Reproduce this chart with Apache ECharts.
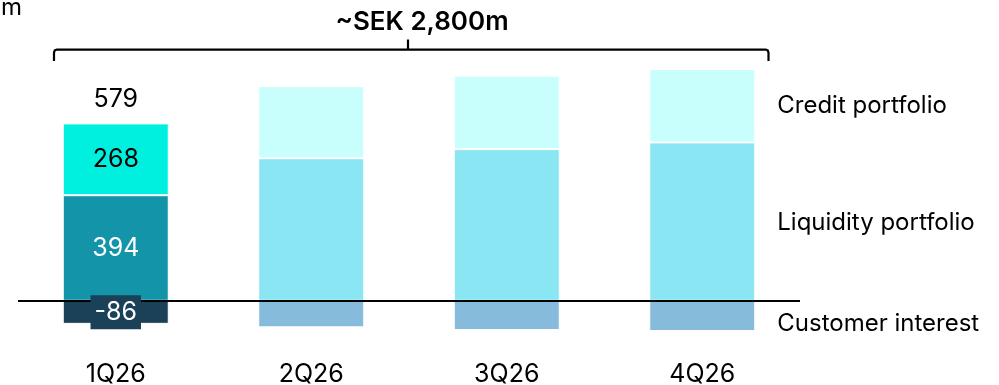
<!DOCTYPE html>
<html>
<head>
<meta charset="utf-8">
<script src="https://cdn.jsdelivr.net/npm/echarts@6/dist/echarts.min.js"></script>
<style>
  html, body { margin: 0; padding: 0; background: #fff; }
  #chart { width: 999px; height: 385px; }
</style>
</head>
<body>
<div id="chart"></div>
<script>
// Net interest income outlook by quarter, SEK m
const quarters = ['1Q26', '2Q26', '3Q26', '4Q26'];
const liquidity = [394, 532, 566, 591];
const credit = [268, 269, 274, 274];
const customer = [-86, -99, -109, -113];
const reportedTotal = [579];
const seriesNames = ['Credit portfolio', 'Liquidity portfolio', 'Customer interest'];
const outlookTotal = '~SEK 2,800m';
const unitLabel = 'm';

const FONT = 'Inter';
// first quarter is reported (strong colours), the rest are outlook (pale colours)
const palette = {
  credit:    ['#00F0E0', '#C8FFFC'],
  liquidity: ['#1494A8', '#8AE6F2'],
  customer:  ['#1B4159', '#87BBDB']
};
const last = quarters.length - 1;

function items(values, colors, opts) {
  return values.map((v, i) => {
    const item = { value: v, itemStyle: { color: i === 0 ? colors[0] : colors[1] } };
    if (i === 0 && opts.firstLabel) item.label = opts.firstLabel;
    if (i === last && opts.lastLabel) item.label = opts.lastLabel;
    return item;
  });
}

const sideLabel = (name, dy) => ({
  show: true, position: 'right', distance: 22, offset: [0, dy],
  formatter: name, color: '#000', fontSize: 24, fontFamily: FONT
});

const barBase = {
  type: 'bar', stack: 'nii', barWidth: 106,
  itemStyle: { borderColor: '#fff', borderWidth: 1 },
  label: { show: false }
};

const chart = echarts.init(document.getElementById('chart'), null, { renderer: 'canvas' });
chart.setOption({
  animation: false,
  backgroundColor: '#fff',
  grid: { left: 18, width: 782, top: 59.6, height: 294.8, outerBoundsMode: 'none', containLabel: false },
  xAxis: {
    type: 'category', data: quarters,
    axisLine: { show: false }, axisTick: { show: false },
    axisLabel: { color: '#000', fontSize: 25, fontFamily: FONT, margin: 8 }
  },
  yAxis: { type: 'value', min: -200, max: 900, show: false, splitLine: { show: false } },
  series: [
    Object.assign({}, barBase, {
      name: seriesNames[1],
      data: items(liquidity, palette.liquidity, {
        firstLabel: { show: true, position: 'inside', color: '#fff', fontSize: 25, fontFamily: FONT },
        lastLabel: sideLabel(seriesNames[1], 1)
      }),
      markLine: {
        silent: true, symbol: ['none', 'none'],
        label: { show: false },
        lineStyle: { color: '#000', width: 1.8, type: 'solid', opacity: 1 },
        data: [{ yAxis: 0 }]
      }
    }),
    Object.assign({}, barBase, {
      name: seriesNames[0],
      data: items(credit, palette.credit, {
        firstLabel: { show: true, position: 'inside', color: '#000', fontSize: 25, fontFamily: FONT },
        lastLabel: sideLabel(seriesNames[0], 0)
      })
    }),
    Object.assign({}, barBase, {
      name: seriesNames[2],
      data: items(customer, palette.customer, {
        lastLabel: sideLabel(seriesNames[2], 8)
      })
    }),
    // customer-interest value tag, drawn over the zero line
    {
      type: 'scatter', z: 10, symbolSize: 0, silent: true,
      itemStyle: { opacity: 1 },
      data: [[0, customer[0] / 2]],
      label: {
        show: true, position: 'inside', formatter: String(customer[0]),
        color: '#fff', fontSize: 25, fontFamily: FONT,
        backgroundColor: palette.customer[0], padding: [5, 4, 4, 4]
      }
    },
    // reported total above the first quarter's stack
    {
      type: 'scatter', z: 10, symbolSize: 0, silent: true,
      itemStyle: { opacity: 1 },
      data: [[0, liquidity[0] + credit[0]]],
      label: {
        show: true, position: 'top', distance: 11,
        formatter: String(reportedTotal[0]),
        color: '#000', fontSize: 25, fontFamily: FONT
      }
    }
  ],
  graphic: [
    {
      type: 'text', left: 1, top: -4,
      style: { text: unitLabel, fill: '#000', fontSize: 24, fontFamily: FONT }
    },
    {
      type: 'text', x: 422, y: 22,
      style: {
        text: outlookTotal, fill: '#000', fontSize: 26, fontWeight: 600, fontFamily: FONT,
        align: 'center', verticalAlign: 'middle'
      }
    },
    // bracket spanning the four quarters
    {
      type: 'polyline',
      shape: { points: [[54, 61], [54, 52.5], [54.8, 50.4], [56.8, 49.6], [765.7, 49.6], [767.7, 50.4], [768.5, 52.5], [768.5, 61]] },
      style: { stroke: '#000', lineWidth: 2.2, fill: null }
    },
    {
      type: 'line',
      shape: { x1: 408, y1: 49.6, x2: 408, y2: 39.5 },
      style: { stroke: '#000', lineWidth: 2.2 }
    }
  ]
});
</script>
</body>
</html>
